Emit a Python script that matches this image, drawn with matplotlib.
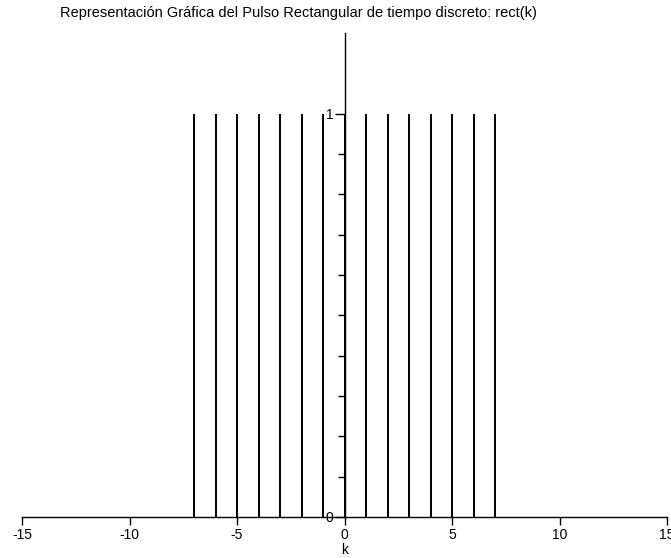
import matplotlib.pyplot as plt
import numpy as np

plt.rcParams['font.family'] = ['Liberation Sans', 'DejaVu Sans']

k = np.arange(-15, 16)
rect = [1 if abs(v) <= 7 else 0 for v in k]

fig = plt.figure(figsize=(6.71, 5.58), dpi=100)
ax = fig.add_axes([22/671, 41/558, 645/671, 484/558])

ax.vlines(k, 0, rect, colors='black', linewidth=1.4)

ax.set_xlim(-15, 15)
ax.set_ylim(0, 1.2)
ax.spines['left'].set_position(('data', 0))
ax.spines['top'].set_visible(False)
ax.spines['right'].set_visible(False)
for s in ['left', 'bottom']:
    ax.spines[s].set_linewidth(1.0)

ax.set_xticks(np.arange(-15, 16, 5))
ax.set_xticklabels([str(v) for v in range(-15, 16, 5)], fontsize=10)
ax.tick_params(axis='x', direction='out', length=6, width=1, pad=2)

ax.set_yticks([0, 1])
ax.set_yticklabels(['0', '1'], fontsize=10)
ax.set_yticks(np.arange(0.1, 1.0, 0.1), minor=True)
ax.tick_params(axis='y', which='major', direction='out', length=7, width=1, pad=1)
ax.tick_params(axis='y', which='minor', direction='out', length=5, width=1)

ax.set_xlabel('k', fontsize=10, labelpad=1)
fig.text(298/671, 1 - 13/558, 'Representación Gráfica del Pulso Rectangular de tiempo discreto: rect(k)',
         ha='center', va='center', fontsize=10.5)

fig.savefig('out.png', dpi=100)
